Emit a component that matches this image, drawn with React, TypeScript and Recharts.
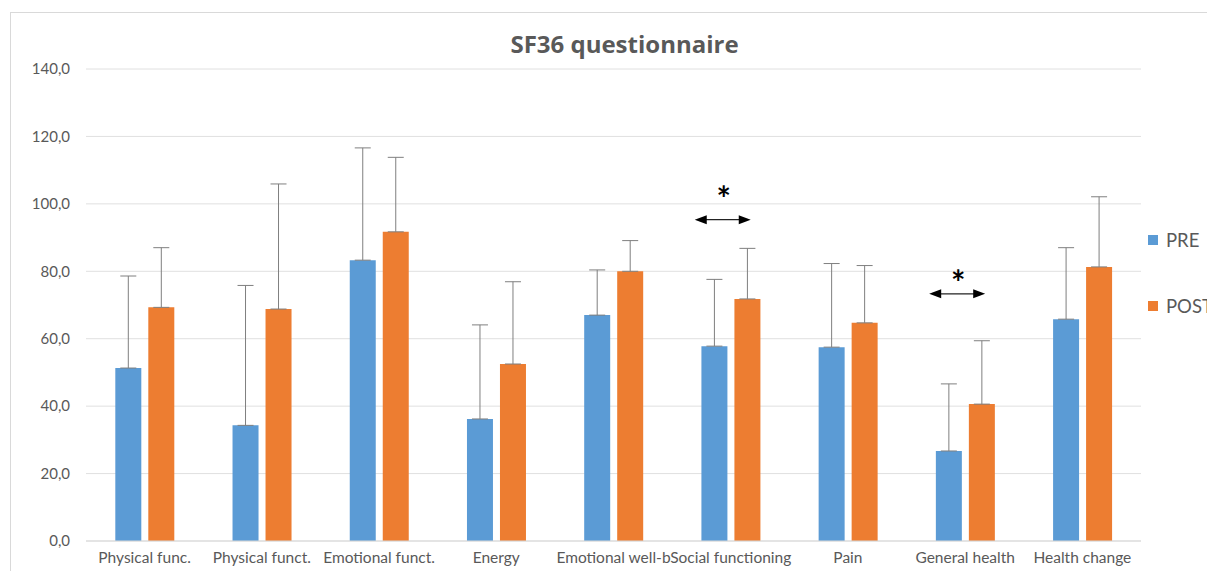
import {
  BarChart,
  Bar,
  XAxis,
  YAxis,
  CartesianGrid,
  Legend,
  ErrorBar,
  ReferenceDot,
} from "recharts";

const categories = [
  "Physical func.",
  "Physical funct.",
  "Emotional funct.",
  "Energy",
  "Emotional well-b",
  "Social functioning",
  "Pain",
  "General health",
  "Health change",
];
const preMeans = [51.3, 34.3, 83.3, 36.2, 67.0, 57.8, 57.5, 26.7, 65.8];
const preSD = [27.3, 41.5, 33.3, 27.9, 13.4, 19.8, 24.8, 19.9, 21.2];
const postMeans = [69.3, 68.8, 91.7, 52.5, 80.0, 71.8, 64.7, 40.6, 81.3];
const postSD = [17.7, 37.1, 22.1, 24.4, 9.1, 15.0, 17.0, 18.8, 20.8];
const yTicks = [0, 20, 40, 60, 80, 100, 120, 140];

// significance marks: category, arrow level, star level
const sigCategories = ["Social functioning", "General health"];
const sigArrowY = [95.3, 73.3];
const sigStarY = [103.2, 78.3];

const data = categories.map((name, i) => ({
  name,
  pre: preMeans[i],
  post: postMeans[i],
  preErr: [0, preSD[i]],
  postErr: [0, postSD[i]],
}));

const PRE = "#5B9BD5";
const POST = "#ED7D31";
const FONT = "Lato, 'Open Sans', sans-serif";

function SigArrow(props: any) {
  const { cx, cy } = props;
  if (cx == null || cy == null) return null;
  const c = cx - 8;
  const x1 = c - 28;
  const x2 = c + 28;
  return (
    <g>
      <line x1={x1 + 8} y1={cy} x2={x2 - 8} y2={cy} stroke="#222" strokeWidth={1.3} />
      <polygon points={`${x1},${cy} ${x1 + 12},${cy - 4.5} ${x1 + 12},${cy + 4.5}`} fill="#000" />
      <polygon points={`${x2},${cy} ${x2 - 12},${cy - 4.5} ${x2 - 12},${cy + 4.5}`} fill="#000" />
    </g>
  );
}

function SigStar(props: any) {
  const { cx, cy } = props;
  if (cx == null || cy == null) return null;
  return (
    <text
      x={cx - 7}
      y={cy + 18}
      textAnchor="middle"
      fontFamily={FONT}
      fontWeight="bold"
      fontSize={34}
      fill="#000"
    >
      *
    </text>
  );
}

function LegendBox() {
  const items = [
    { label: "PRE", color: PRE },
    { label: "POST", color: POST },
  ];
  return (
    <div style={{ fontFamily: FONT }}>
      {items.map((it) => (
        <div
          key={it.label}
          style={{ display: "flex", alignItems: "center", height: 33, marginBottom: 33 }}
        >
          <span
            style={{ width: 10, height: 10, background: it.color, display: "inline-block", marginRight: 8 }}
          />
          <span style={{ fontSize: 18.5, color: "#595959" }}>{it.label}</span>
        </div>
      ))}
    </div>
  );
}

export default function App() {
  return (
    <div
      style={{
        position: "relative",
        marginLeft: 2,
        marginTop: 4,
        width: 1215,
        height: 580,
        border: "1px solid #d9d9d9",
        background: "#fff",
      }}
    >
      <div
        style={{
          position: "absolute",
          left: 0,
          top: 14,
          width: 1227,
          textAlign: "center",
          fontFamily: "'Open Sans', sans-serif",
          fontWeight: "bold",
          fontSize: 24,
          color: "#595959",
        }}
      >
        SF36 questionnaire
      </div>
      <BarChart
        width={1215}
        height={580}
        data={data}
        margin={{ top: 56, right: 85, bottom: 22, left: 0 }}
        barCategoryGap="25%"
        barGap={7}
      >
        <CartesianGrid vertical={false} stroke="#e0e0e0" />
        <XAxis
          dataKey="name"
          interval={0}
          tickLine={false}
          tickSize={0}
          tickMargin={11}
          height={30}
          axisLine={{ stroke: "#d9d9d9" }}
          tick={{ fill: "#595959", fontSize: 15.5, fontFamily: FONT }}
        />
        <YAxis
          domain={[0, 140]}
          ticks={yTicks}
          width={75}
          axisLine={false}
          tickLine={false}
          tickSize={0}
          tickMargin={16}
          tickFormatter={(v: number) => v.toFixed(1).replace(".", ",")}
          tick={{ fill: "#595959", fontSize: 15, fontFamily: FONT }}
        />
        <Legend
          layout="horizontal"
          align="center"
          verticalAlign="middle"
          content={() => <LegendBox />}
          wrapperStyle={{ left: 1137, top: 210, width: 90 }}
        />
        <Bar dataKey="pre" name="PRE" fill={PRE} isAnimationActive={false}>
          <ErrorBar dataKey="preErr" width={8} stroke="#7f7f7f" strokeWidth={1} direction="y" />
        </Bar>
        <Bar dataKey="post" name="POST" fill={POST} isAnimationActive={false}>
          <ErrorBar dataKey="postErr" width={8} stroke="#7f7f7f" strokeWidth={1} direction="y" />
        </Bar>
        {sigCategories.map((c, i) => (
          <ReferenceDot key={"a" + c} x={c} y={sigArrowY[i]} shape={SigArrow} />
        ))}
        {sigCategories.map((c, i) => (
          <ReferenceDot key={"s" + c} x={c} y={sigStarY[i]} shape={SigStar} />
        ))}
      </BarChart>
    </div>
  );
}
